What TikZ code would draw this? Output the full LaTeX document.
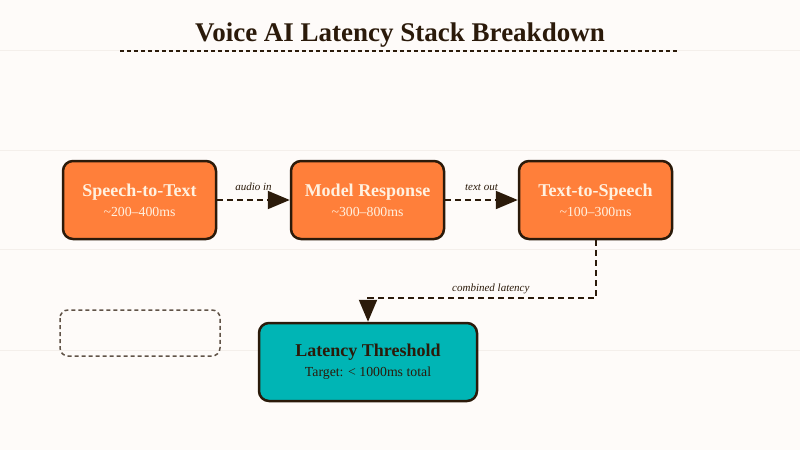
\documentclass[tikz,border=0pt]{standalone}
\usepackage{fontspec}
\setmainfont{Liberation Serif}
\usetikzlibrary{arrows.meta}
\definecolor{paper}{HTML}{FEFBF9}
\definecolor{rule}{HTML}{F4EFEB}
\definecolor{ink}{HTML}{2B1A0A}
\definecolor{stage}{HTML}{FF7F3A}
\definecolor{cream}{HTML}{FFF1E0}
\definecolor{limit}{HTML}{00B5B5}
\newcommand{\stagehead}[1]{{\fontsize{18}{21}\selectfont\bfseries #1}}
\newcommand{\stagesub}[1]{{\fontsize{13.8}{16}\selectfont #1}}
\tikzset{
  stagebox/.style={
    draw=ink,
    line width=2.5pt,
    fill=stage,
    rounded corners=10pt,
    minimum width=153pt,
    minimum height=78pt,
    align=center,
    text=cream
  },
  limitbox/.style={
    stagebox,
    fill=limit,
    minimum width=218pt,
    text=ink
  },
  flow/.style={
    draw=ink,
    line width=2pt,
    dash pattern=on 6pt off 4pt,
    -{Triangle[length=22pt,width=18pt]}
  },
  flowlabel/.style={
    font=\fontsize{11}{13}\selectfont\itshape,
    text=ink
  }
}

\begin{document}
\begin{tikzpicture}[x=1pt,y=-1pt]
  \useasboundingbox (0,0) rectangle (800,450);
  \fill[paper] (0,0) rectangle (800,450);
  \foreach \y in {50,150,249,350}
  \draw[rule,line width=1pt] (0,\y) -- (800,\y);
  \node[font=\fontsize{27}{31}\selectfont\bfseries,text=ink] (title) at (400,35) {Voice AI Latency Stack Breakdown};
  \draw[ink,line width=1.6pt,dash pattern=on 4pt off 3pt] (120,51) -- (677,51);
  \node[stagebox] (stt) at (139.5,200) {\stagehead{Speech-to-Text}\\[6pt]\stagesub{\textasciitilde200--400ms}};
  \node[stagebox] (model) at (367.5,200) {\stagehead{Model Response}\\[6pt]\stagesub{\textasciitilde300--800ms}};
  \node[stagebox] (tts) at (595.5,200) {\stagehead{Text-to-Speech}\\[6pt]\stagesub{\textasciitilde100--300ms}};
  \node[limitbox] (thresh) at (368,362) {\stagehead{Latency Threshold}\\[6pt]\stagesub{Target: \textless{} 1000ms total}};
  \draw[draw=ink!75,line width=1.5pt,dash pattern=on 4pt off 3pt,rounded corners=8pt] (60,310) rectangle (220,356);
  \draw[flow] (stt) -- node[flowlabel,above=5pt] {audio in} (model);
  \draw[flow] (model) -- node[flowlabel,above=5pt] {text out} (tts);
  \draw[flow] (tts.south) -- ++(0,58) -| node[flowlabel,above=0pt,pos=0.23] {combined latency} (thresh.north);
\end{tikzpicture}
\end{document}
